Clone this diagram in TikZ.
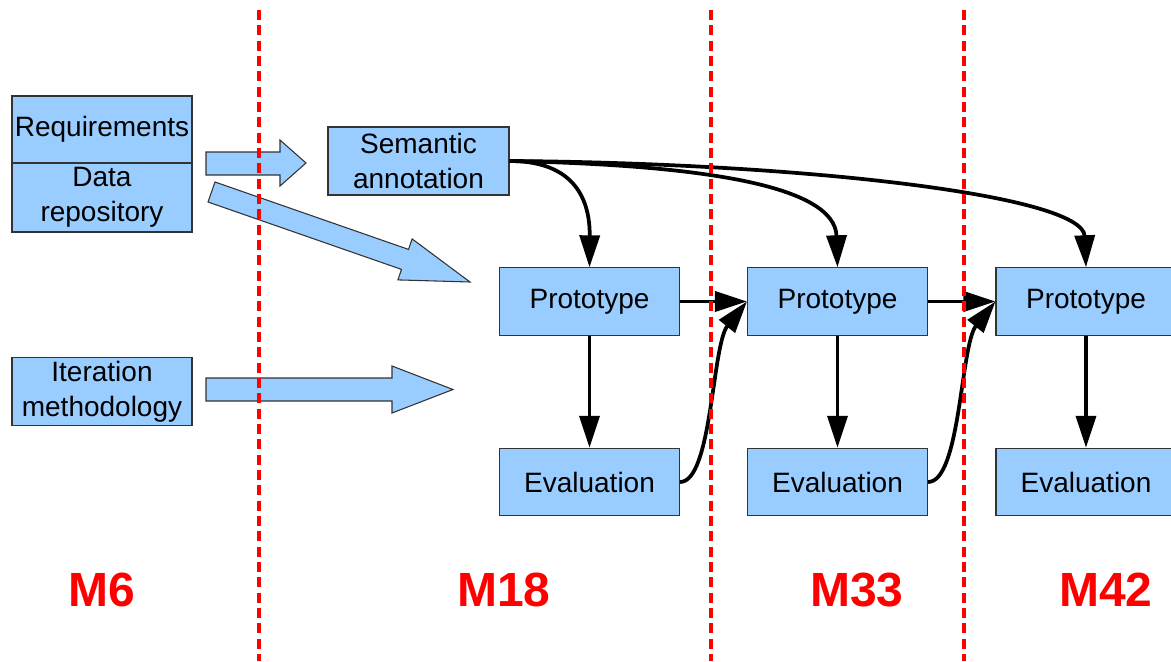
\documentclass[tikz,border=0pt]{standalone}
\usepackage{fontspec}
\setmainfont{Liberation Sans}
\usetikzlibrary{arrows.meta}
\definecolor{boxblue}{HTML}{99CCFF}
\definecolor{edgegray}{HTML}{333333}
\definecolor{milered}{HTML}{FF0000}
\begin{document}
\begin{tikzpicture}[x=0.75pt,y=-0.75pt,
  box/.style={draw=edgegray, line width=0.8pt, fill=boxblue,
    minimum width=135pt, minimum height=50.5pt, inner sep=0pt,
    align=center, font=\fontsize{21}{26}\selectfont},
  blockarrow/.style={draw=edgegray, line width=0.8pt, fill=boxblue, line join=miter},
  conn/.style={line width=2.8pt, -{Triangle[length=24pt,width=15pt]}},
  milestone/.style={draw=milered, dash pattern=on 7.5pt off 4pt, line width=3pt},
  mlabel/.style={text=milered, font=\fontsize{36}{40}\selectfont\bfseries, inner sep=0pt}]

\clip (0,0) rectangle (1171,661);
\fill[white] (0,0) rectangle (1171,661);

% inputs on the left
\node[box, minimum height=50.25pt] (req) at (102,129.5) {Requirements};
\node[box, minimum height=51.75pt] (data) at (102,197.5) {Data\\repository};
\node[box] (iter) at (102,391.5) {Iteration\\methodology};

% work packages
\node[box, minimum width=135.75pt, minimum height=51pt] (sem) at (418.5,161) {Semantic\\annotation};
\node[box] (p1) at (589.5,301.5) {Prototype};
\node[box] (p2) at (837.5,301.5) {Prototype};
\node[box] (p3) at (1086,301.5) {Prototype};
\node[box] (e1) at (589.5,482) {Evaluation};
\node[box] (e2) at (837.5,482) {Evaluation};
\node[box] (e3) at (1086,482) {Evaluation};

% block arrows feeding the work
\draw[blockarrow] (206,152) -- (280,152) -- (280,140) -- (306,163)
  -- (280,186) -- (280,175) -- (206,175) -- cycle;
\draw[blockarrow] (215,182) -- (408.5,249.4) -- (412.1,238.9) -- (470,282)
  -- (397.9,279.9) -- (401.5,269.4) -- (208,202) -- cycle;
\draw[blockarrow] (206,378) -- (392,378) -- (392,366) -- (453,389.5)
  -- (392,413) -- (392,401) -- (206,401) -- cycle;

% annotation feeds every prototype
\draw[conn] (sem.east) .. controls (575,161) and (590,200) .. (p1.north);
\draw[conn] (sem.east) .. controls (700,165) and (835,185) .. (p2.north);
\draw[conn] (sem.east) .. controls (800,163) and (1083,195) .. (p3.north);

% prototype / evaluation cycle
\draw[conn] (p1.south) -- (e1.north);
\draw[conn] (p2.south) -- (e2.north);
\draw[conn] (p3.south) -- (e3.north);
\draw[conn] (p1.east) -- (p2.west);
\draw[conn] (p2.east) -- (p3.west);
\draw[conn] (e1.east) .. controls (712,482) and (712,345) .. (p2.west);
\draw[conn] (e2.east) .. controls (960.5,482) and (960.5,345) .. (p3.west);

% milestone boundaries
\draw[milestone] (259,10) -- (259,661);
\draw[milestone] (711,10) -- (711,661);
\draw[milestone] (964,10) -- (964,661);

% milestone labels
\node[mlabel] (m6) at (102,590) {M6};
\node[mlabel] (m18) at (504,590) {M18};
\node[mlabel] (m33) at (857,590) {M33};
\node[mlabel] (m42) at (1106,590) {M42};
\end{tikzpicture}
\end{document}
